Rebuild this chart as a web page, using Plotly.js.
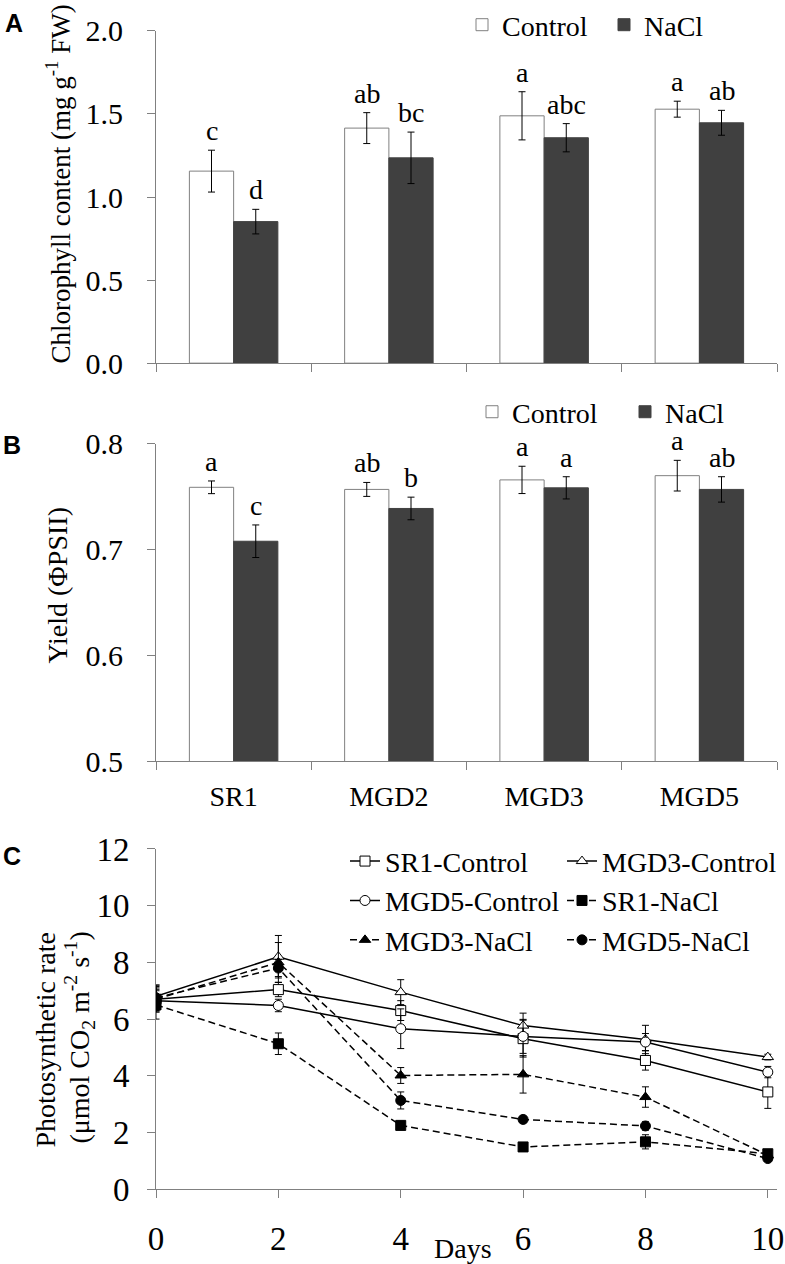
<!DOCTYPE html>
<html>
<head>
<meta charset="utf-8">
<script src="https://cdn.plot.ly/plotly-3.0.1.min.js"></script>
<style>html,body{margin:0;padding:0;background:#fff;}#chart{width:785px;height:1264px;}</style>
</head>
<body>
<div id="chart"></div>
<script>
// ---------- data ----------
const genotypes = ['SR1', 'MGD2', 'MGD3', 'MGD5'];

const chlControl = [1.156, 1.415, 1.489, 1.529];
const chlControlErr = [0.126, 0.093, 0.145, 0.048];
const chlNaCl = [0.852, 1.236, 1.357, 1.447];
const chlNaClErr = [0.074, 0.155, 0.085, 0.075];
const chlControlLetters = ['c', 'ab', 'a', 'a'];
const chlNaClLetters = ['d', 'bc', 'abc', 'ab'];

const yieldControl = [0.759, 0.757, 0.766, 0.770];
const yieldControlErr = [0.006, 0.0066, 0.0129, 0.0145];
const yieldNaCl = [0.708, 0.739, 0.7585, 0.757];
const yieldNaClErr = [0.0154, 0.0107, 0.0105, 0.012];
const yieldControlLetters = ['a', 'ab', 'a', 'a'];
const yieldNaClLetters = ['c', 'b', 'a', 'ab'];

const days = [0, 2, 4, 6, 8, 10];
const sr1Control = [6.70, 7.04, 6.30, 5.31, 4.54, 3.43];
const sr1ControlErr = [0.45, 0.25, 0.35, 0.65, 0.34, 0.58];
const mgd3Control = [6.80, 8.20, 6.95, 5.77, 5.28, 4.66];
const mgd3ControlErr = [0.40, 0.75, 0.44, 0.44, 0.50, 0.10];
const mgd5Control = [6.65, 6.48, 5.66, 5.39, 5.19, 4.13];
const mgd5ControlErr = [0.40, 0.22, 0.70, 0.60, 0.30, 0.20];
const sr1NaCl = [6.50, 5.13, 2.25, 1.49, 1.67, 1.25];
const sr1NaClErr = [0.50, 0.38, 0.15, 0.12, 0.25, 0.10];
const mgd3NaCl = [6.70, 8.00, 4.01, 4.05, 3.25, 1.20];
const mgd3NaClErr = [0.40, 0.70, 0.28, 0.66, 0.36, 0.10];
const mgd5NaCl = [6.75, 7.80, 3.13, 2.46, 2.23, 1.08];
const mgd5NaClErr = [0.45, 0.30, 0.30, 0.12, 0.15, 0.10];

// ---------- styling helpers ----------
const W = 785, H = 1264, ML = 156, MR = 8;
const serif = "'Liberation Serif', 'Times New Roman', serif";
const sans = "'Liberation Sans', Arial, sans-serif";
const axisColor = '#808080';
const darkFill = '#404040';
const px2x = p => (p - ML) / (W - ML - MR);
const px2y = p => 1 - p / H;

function barTrace(y, err, name, fill, line, xa, ya, legend) {
  return {
    type: 'bar', x: genotypes, y: y, name: name, xaxis: xa, yaxis: ya,
    legend: legend, showlegend: true,
    marker: {color: fill, line: {color: line, width: 1}},
    error_y: {type: 'data', array: err, visible: true, color: '#000', thickness: 1, width: 3.5},
    hoverinfo: 'skip'
  };
}

function lineTrace(y, err, name, symbol, fill, dash) {
  return {
    type: 'scatter', mode: 'lines+markers', x: days, y: y, name: name,
    xaxis: 'x3', yaxis: 'y3', legend: 'legend3',
    line: {color: '#000', width: 1.5, dash: dash},
    marker: {symbol: symbol, size: 10, color: fill, line: {color: '#000', width: 1}},
    error_y: {type: 'data', array: err, visible: true, color: '#000', thickness: 1, width: 3.5},
    hoverinfo: 'skip'
  };
}

const dashPat = '7px,4px';
const traces = [
  barTrace(chlControl, chlControlErr, 'Control', '#ffffff', axisColor, 'x', 'y', 'legend'),
  barTrace(chlNaCl, chlNaClErr, 'NaCl', darkFill, darkFill, 'x', 'y', 'legend'),
  barTrace(yieldControl, yieldControlErr, 'Control', '#ffffff', axisColor, 'x2', 'y2', 'legend2'),
  barTrace(yieldNaCl, yieldNaClErr, 'NaCl', darkFill, darkFill, 'x2', 'y2', 'legend2'),
  lineTrace(sr1Control, sr1ControlErr, 'SR1-Control', 'square', '#ffffff', 'solid'),
  lineTrace(mgd3Control, mgd3ControlErr, 'MGD3-Control', 'triangle-up', '#ffffff', 'solid'),
  lineTrace(mgd5Control, mgd5ControlErr, 'MGD5-Control', 'circle', '#ffffff', 'solid'),
  lineTrace(sr1NaCl, sr1NaClErr, 'SR1-NaCl', 'square', '#000000', dashPat),
  lineTrace(mgd3NaCl, mgd3NaClErr, 'MGD3-NaCl', 'triangle-up', '#000000', dashPat),
  lineTrace(mgd5NaCl, mgd5NaClErr, 'MGD5-NaCl', 'circle', '#000000', dashPat)
];

// ---------- annotations ----------
const annotations = [];
const barOffset = 0.1425;
function addLetters(vals, errs, letters, sign, xref, yref) {
  vals.forEach((v, i) => {
    annotations.push({
      xref: xref, yref: yref, x: i + sign * barOffset, y: v + errs[i],
      text: letters[i], showarrow: false, xanchor: 'center', yanchor: 'bottom', yshift: 2,
      font: {family: serif, size: 28, color: '#000'}
    });
  });
}
addLetters(chlControl, chlControlErr, chlControlLetters, -1, 'x', 'y');
addLetters(chlNaCl, chlNaClErr, chlNaClLetters, 1, 'x', 'y');
addLetters(yieldControl, yieldControlErr, yieldControlLetters, -1, 'x2', 'y2');
addLetters(yieldNaCl, yieldNaClErr, yieldNaClLetters, 1, 'x2', 'y2');

function paperText(text, xp, yp, size, angle, family, bold) {
  annotations.push({
    xref: 'paper', yref: 'paper', x: px2x(xp), y: px2y(yp), text: bold ? '<b>' + text + '</b>' : text,
    showarrow: false, xanchor: 'center', yanchor: 'middle', textangle: angle,
    font: {family: family, size: size, color: '#000'}
  });
}
paperText('A', 14, 20, 25, 0, sans, true);
paperText('B', 12, 443, 25, 0, sans, true);
paperText('C', 12, 855, 25, 0, sans, true);
paperText('Chlorophyll content (mg g<sup>-1</sup> FW)', 58, 182, 27, -90, serif, false);
paperText('Yield (ΦPSII)', 58, 584, 28, -90, serif, false);
paperText('Photosynthetic rate', 46, 1040, 28, -90, serif, false);
paperText('(μmol CO<sub>2</sub> m<sup>-2</sup> s<sup>-1</sup>)', 80, 1037, 28, -90, serif, false);
paperText('Days', 463, 1248, 28, 0, serif, false);

// ---------- axes ----------
const baseAxis = {
  showgrid: false, zeroline: false, showline: true, linecolor: axisColor, linewidth: 1,
  ticks: 'outside', ticklen: 8, tickcolor: axisColor, tickwidth: 1,
  tickfont: {family: serif, size: 30, color: '#000'}, fixedrange: true
};

const layout = {
  width: W, height: H,
  font: {family: serif, color: '#000'},
  margin: {l: ML, r: MR, t: 0, b: 0},
  paper_bgcolor: '#fff', plot_bgcolor: '#fff',
  barmode: 'group', bargap: 0.43, bargroupgap: 0,
  showlegend: true,
  xaxis: Object.assign({}, baseAxis, {
    domain: [0, 1], anchor: 'y', type: 'category', tickson: 'boundaries',
    showticklabels: false, range: [-0.5, 3.5]
  }),
  yaxis: Object.assign({}, baseAxis, {
    domain: [px2y(361), px2y(28)], anchor: 'x', range: [0, 2.0], dtick: 0.5,
    tickformat: '.1f', ticklabelstandoff: 18
  }),
  xaxis2: Object.assign({}, baseAxis, {
    domain: [0, 1], anchor: 'y2', type: 'category', tickson: 'boundaries',
    range: [-0.5, 3.5], tickfont: {family: serif, size: 28, color: '#000'}, ticklabelstandoff: 10
  }),
  yaxis2: Object.assign({}, baseAxis, {
    domain: [px2y(760), px2y(442)], anchor: 'x2', range: [0.5, 0.8], dtick: 0.1,
    tickformat: '.1f', ticklabelstandoff: 18
  }),
  xaxis3: Object.assign({}, baseAxis, {
    domain: [0, 1], anchor: 'y3', range: [0, 10.15], tickvals: days,
    tickfont: {family: serif, size: 33, color: '#000'}, ticklabelstandoff: 12
  }),
  yaxis3: Object.assign({}, baseAxis, {
    domain: [px2y(1189), px2y(848)], anchor: 'x3', range: [0, 12], dtick: 2,
    tickfont: {family: serif, size: 33, color: '#000'}, ticklabelstandoff: 11
  }),
  legend: {
    orientation: 'h', x: px2x(462), y: px2y(22), xanchor: 'left', yanchor: 'middle',
    entrywidth: 97, entrywidthmode: 'pixels', bgcolor: 'rgba(0,0,0,0)',
    font: {family: serif, size: 28, color: '#000'}
  },
  legend2: {
    orientation: 'h', x: px2x(472), y: px2y(410), xanchor: 'left', yanchor: 'middle',
    entrywidth: 108, entrywidthmode: 'pixels', bgcolor: 'rgba(0,0,0,0)',
    font: {family: serif, size: 28, color: '#000'}
  },
  legend3: {
    orientation: 'h', x: px2x(345), y: px2y(900), xanchor: 'left', yanchor: 'middle',
    entrywidth: 172, entrywidthmode: 'pixels', bgcolor: 'rgba(0,0,0,0)', traceorder: 'normal',
    font: {family: serif, size: 28, color: '#000'}
  },
  annotations: annotations
};

Plotly.newPlot('chart', traces, layout, {staticPlot: true, displayModeBar: false});
</script>
</body>
</html>
